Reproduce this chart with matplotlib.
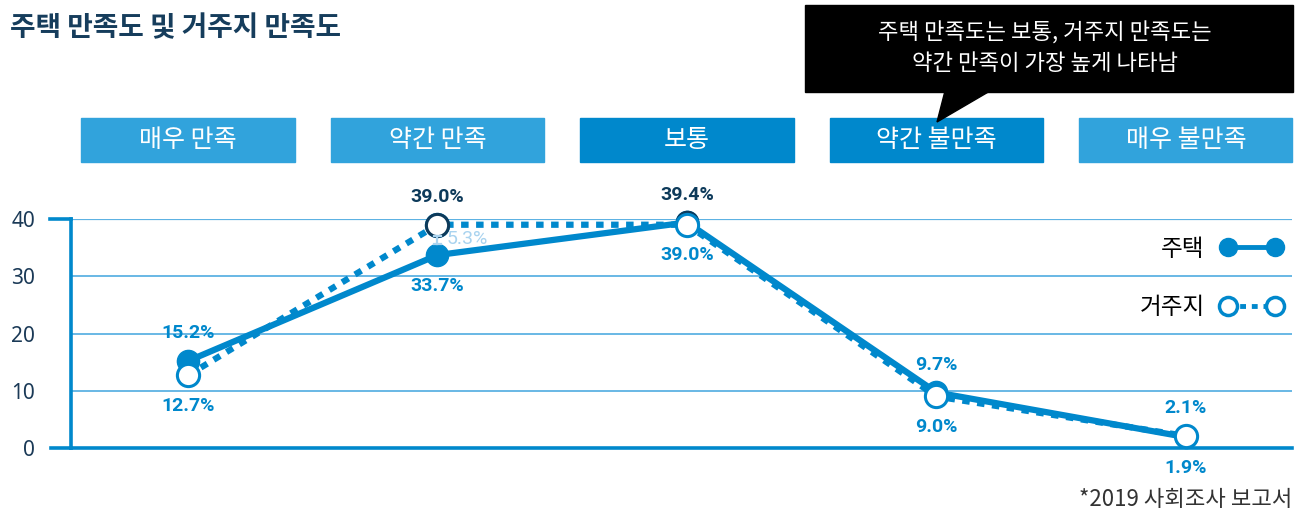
import matplotlib
matplotlib.use("Agg")
import matplotlib.pyplot as plt
from matplotlib.patches import Rectangle, Polygon
from matplotlib.lines import Line2D
import matplotlib.transforms as mtransforms

plt.rcParams['font.family'] = ['Noto Sans CJK KR', 'DejaVu Sans']

# --- 데이터
categories = ['매우 만족', '약간 만족', '보통', '약간 불만족', '매우 불만족']
housing = [15.2, 33.7, 39.4, 9.7, 1.9]      # 주택
residence = [12.7, 39.0, 39.0, 9.0, 2.1]    # 거주지
housing_label_pos = ['above', 'below', 'above', 'above', 'below']
residence_label_pos = ['below', 'above', 'below', 'below', 'above']
yticks = [0, 10, 20, 30, 40]
gap_value = 5.3

BLUE = '#0088cc'
LIGHT = '#31a3dc'
NAVY = '#0d3a5a'
GRID = '#5db2e3'
PALE = '#a9d3ef'

W, H = 1305, 516
fig = plt.figure(figsize=(W / 100, H / 100), dpi=100)

def px(x, y):
    return (x / W, 1 - y / H)

ax = fig.add_axes([71 / W, 68 / H, (1292 - 71) / W, 229 / H])
x = list(range(len(categories)))
ax.set_xlim(-0.469, 4.425)
ax.set_ylim(0, 40)

# 격자
for t in yticks[1:-1]:
    ax.axhline(t, color=GRID, lw=1.3, zorder=1)
ax.axhline(40, color=GRID, lw=1.6, zorder=1)
for s in ['top', 'right']:
    ax.spines[s].set_visible(False)
for s in ['left', 'bottom']:
    ax.spines[s].set_color(BLUE)
    ax.spines[s].set_linewidth(2.6)
ax.set_xticks([])
ax.set_yticks(yticks)
ax.set_yticklabels([str(t) for t in yticks], fontsize=15, color='#1b3a57',
                   family=['Noto Sans', 'DejaVu Sans'])
ax.tick_params(axis='y', length=0, pad=26)

# 축 끝 표시
blend = mtransforms.blended_transform_factory(ax.transAxes, ax.transData)
ax.plot([-0.017, 0], [40, 40], color=BLUE, lw=2.6, transform=blend, clip_on=False)
ax.plot([-0.016, 0], [0, 0], color=BLUE, lw=2.6, transform=blend, clip_on=False)

# 선
ax.plot(x, housing, color=BLUE, lw=4.5, marker='o', ms=16, mfc=BLUE, mec=BLUE,
        clip_on=False, zorder=3)
ax.plot(x, residence, color=BLUE, lw=4.5, ls=(0, (1.2, 1.2)), dash_capstyle='butt',
        marker='o', ms=16, mfc='white', mec=BLUE, mew=2.2,
        clip_on=False, zorder=4)
# 강조 마커
ax.plot(x[2], housing[2], 'o', ms=16, color=NAVY, zorder=3.5, clip_on=False)
ax.plot(x[1], residence[1], 'o', ms=16, mfc='white', mec=NAVY, mew=2.2, zorder=5,
        clip_on=False)

num_font = dict(family=['Roboto', 'DejaVu Sans'], fontweight='bold', fontsize=14)

def put_labels(vals, pos, highlight):
    for i, (v, p) in enumerate(zip(vals, pos)):
        c = NAVY if i == highlight else BLUE
        off = 20 if p == 'above' else -22
        ax.annotate(f'{v:.1f}%', (x[i], v), xytext=(0, off), textcoords='offset points',
                    ha='center', va='center', color=c, annotation_clip=False, **num_font)

put_labels(housing, housing_label_pos, 2)
put_labels(residence, residence_label_pos, 1)

# 차이 표시
mid = (housing[1] + residence[1]) / 2
h = 0.7
ax.plot([x[1], x[1]], [mid - h, mid + h], color=PALE, lw=1.6, zorder=6)
for yy in (mid - h, mid + h):
    ax.plot([x[1] - 0.015, x[1] + 0.015], [yy, yy], color=PALE, lw=1.6, zorder=6)
ax.text(x[1] + 0.035, mid + 0.2, f'{gap_value}%', color=PALE, ha='left', va='center',
        family=['Roboto', 'DejaVu Sans'], fontsize=14)

# 범례
handles = [
    Line2D([], [], color=BLUE, lw=3.5, marker='o', ms=13, mfc=BLUE, mec=BLUE),
    Line2D([], [], color=BLUE, lw=3.5, ls=(0, (1.2, 1.2)), marker='o', ms=13,
           mfc='white', mec=BLUE, mew=2.5),
]
leg = ax.legend(handles, ['주택', '거주지'], loc='upper right', bbox_to_anchor=(1.0, 0.96),
                frameon=False, markerfirst=False, numpoints=2, fontsize=17,
                labelspacing=1.5, handlelength=2.6, handletextpad=0.7, borderaxespad=0)
leg.set_zorder(6)

# 범주 상자
bt = mtransforms.blended_transform_factory(ax.transData, fig.transFigure)
box_colors = [LIGHT, LIGHT, BLUE, BLUE, LIGHT]
y0 = 1 - 162 / H
bh = 44 / H
for i, (cat, col) in enumerate(zip(categories, box_colors)):
    ax.add_patch(Rectangle((x[i] - 0.427, y0), 0.854, bh, transform=bt, color=col,
                           clip_on=False))
    ax.text(x[i], y0 + bh / 2, cat, transform=bt, ha='center', va='center',
            color='white', fontsize=18)

# 설명 상자
fig.patches.append(Rectangle(px(805, 92), 488 / W, 87 / H, transform=fig.transFigure,
                             color='black', figure=fig))
fig.patches.append(Polygon([px(945, 91), px(990, 91), px(937, 122)], closed=True,
                           transform=fig.transFigure, color='black', figure=fig))
fig.text(*px(1045, 33), '주택 만족도는 보통, 거주지 만족도는', color='white',
         ha='center', va='center', fontsize=16)
fig.text(*px(1045, 63), '약간 만족이 가장 높게 나타남', color='white',
         ha='center', va='center', fontsize=16)

# 제목, 출처
fig.text(*px(10, 28), '주택 만족도 및 거주지 만족도', fontsize=20, fontweight='bold',
         color='#163d5c', ha='left', va='center')
fig.text(*px(1292, 500), '*2019 사회조사 보고서', fontsize=16, color='#333333',
         ha='right', va='center')

fig.savefig('out.png', dpi=100)
